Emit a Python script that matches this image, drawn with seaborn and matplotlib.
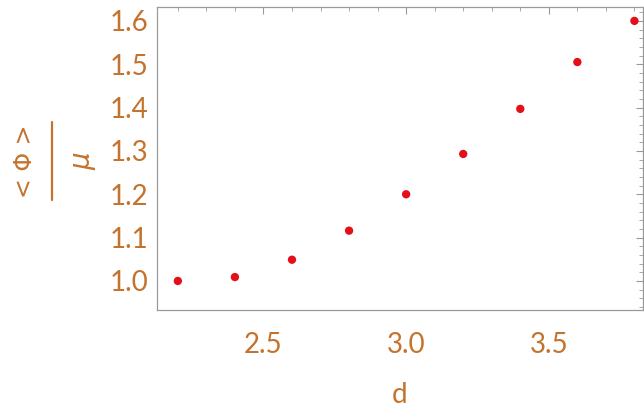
import matplotlib.pyplot as plt
import numpy as np
import pandas as pd
import seaborn as sns
from matplotlib.lines import Line2D
from matplotlib.ticker import MultipleLocator

# data
d_values = [2.2, 2.4, 2.6, 2.8, 3.0, 3.2, 3.4, 3.6, 3.8]
phi_over_mu = [1.0, 1.009, 1.049, 1.116, 1.2, 1.293, 1.397, 1.505, 1.60]

labelColor = "#c4732e"
frameColor = "#9a9a9a"
dotColor = "#e3101a"

sns.set_style("white")
plt.rcParams["font.family"] = ["Lato", "DejaVu Sans"]

df = pd.DataFrame({"d": d_values, "ratio": phi_over_mu})

W, H = 644, 407
fig = plt.figure(figsize=(W / 100, H / 100), dpi=100)
ax = fig.add_axes((157 / W, 1 - 310 / H, 486 / W, 303 / H))

sns.scatterplot(
    data=df,
    x="d",
    y="ratio",
    s=36,
    color=dotColor,
    edgecolor="none",
    ax=ax,
    legend=False,
)

ax.set_xlim(2.127, 3.83)
ax.set_ylim(0.933, 1.632)

ax.xaxis.set_major_locator(MultipleLocator(0.5))
ax.xaxis.set_minor_locator(MultipleLocator(0.1))
ax.yaxis.set_major_locator(MultipleLocator(0.1))
ax.yaxis.set_minor_locator(MultipleLocator(0.02))
ax.xaxis.set_major_formatter(lambda v, p: f"{v:.1f}")
ax.yaxis.set_major_formatter(lambda v, p: f"{v:.1f}")

for side in ax.spines.values():
    side.set_color(frameColor)
    side.set_linewidth(0.9)

ax.tick_params(
    which="both",
    direction="in",
    top=True,
    right=True,
    color=frameColor,
    labelcolor=labelColor,
    labelsize=20,
)
ax.tick_params(which="major", length=5, width=0.8)
ax.tick_params(which="minor", length=3, width=0.6)
ax.tick_params(axis="x", which="major", pad=16)
ax.tick_params(axis="y", which="major", pad=6)

ax.set_xlabel("d", color=labelColor, fontsize=20, labelpad=17)
ax.set_ylabel("")

# y label: <Φ> over μ as a rotated fraction
fig.text(25 / W, 1 - 161 / H, "< Φ >", rotation=90, color=labelColor,
         fontsize=17, ha="center", va="center", family="DejaVu Sans")
fig.add_artist(Line2D([52 / W, 52 / W], [1 - 200 / H, 1 - 122 / H],
                      color=labelColor, linewidth=1.6))
fig.text(82 / W, 1 - 161 / H, "μ", rotation=90, color=labelColor,
         fontsize=20, ha="center", va="center",
         family="DejaVu Sans", style="italic")

fig.savefig("out.png", dpi=100)
